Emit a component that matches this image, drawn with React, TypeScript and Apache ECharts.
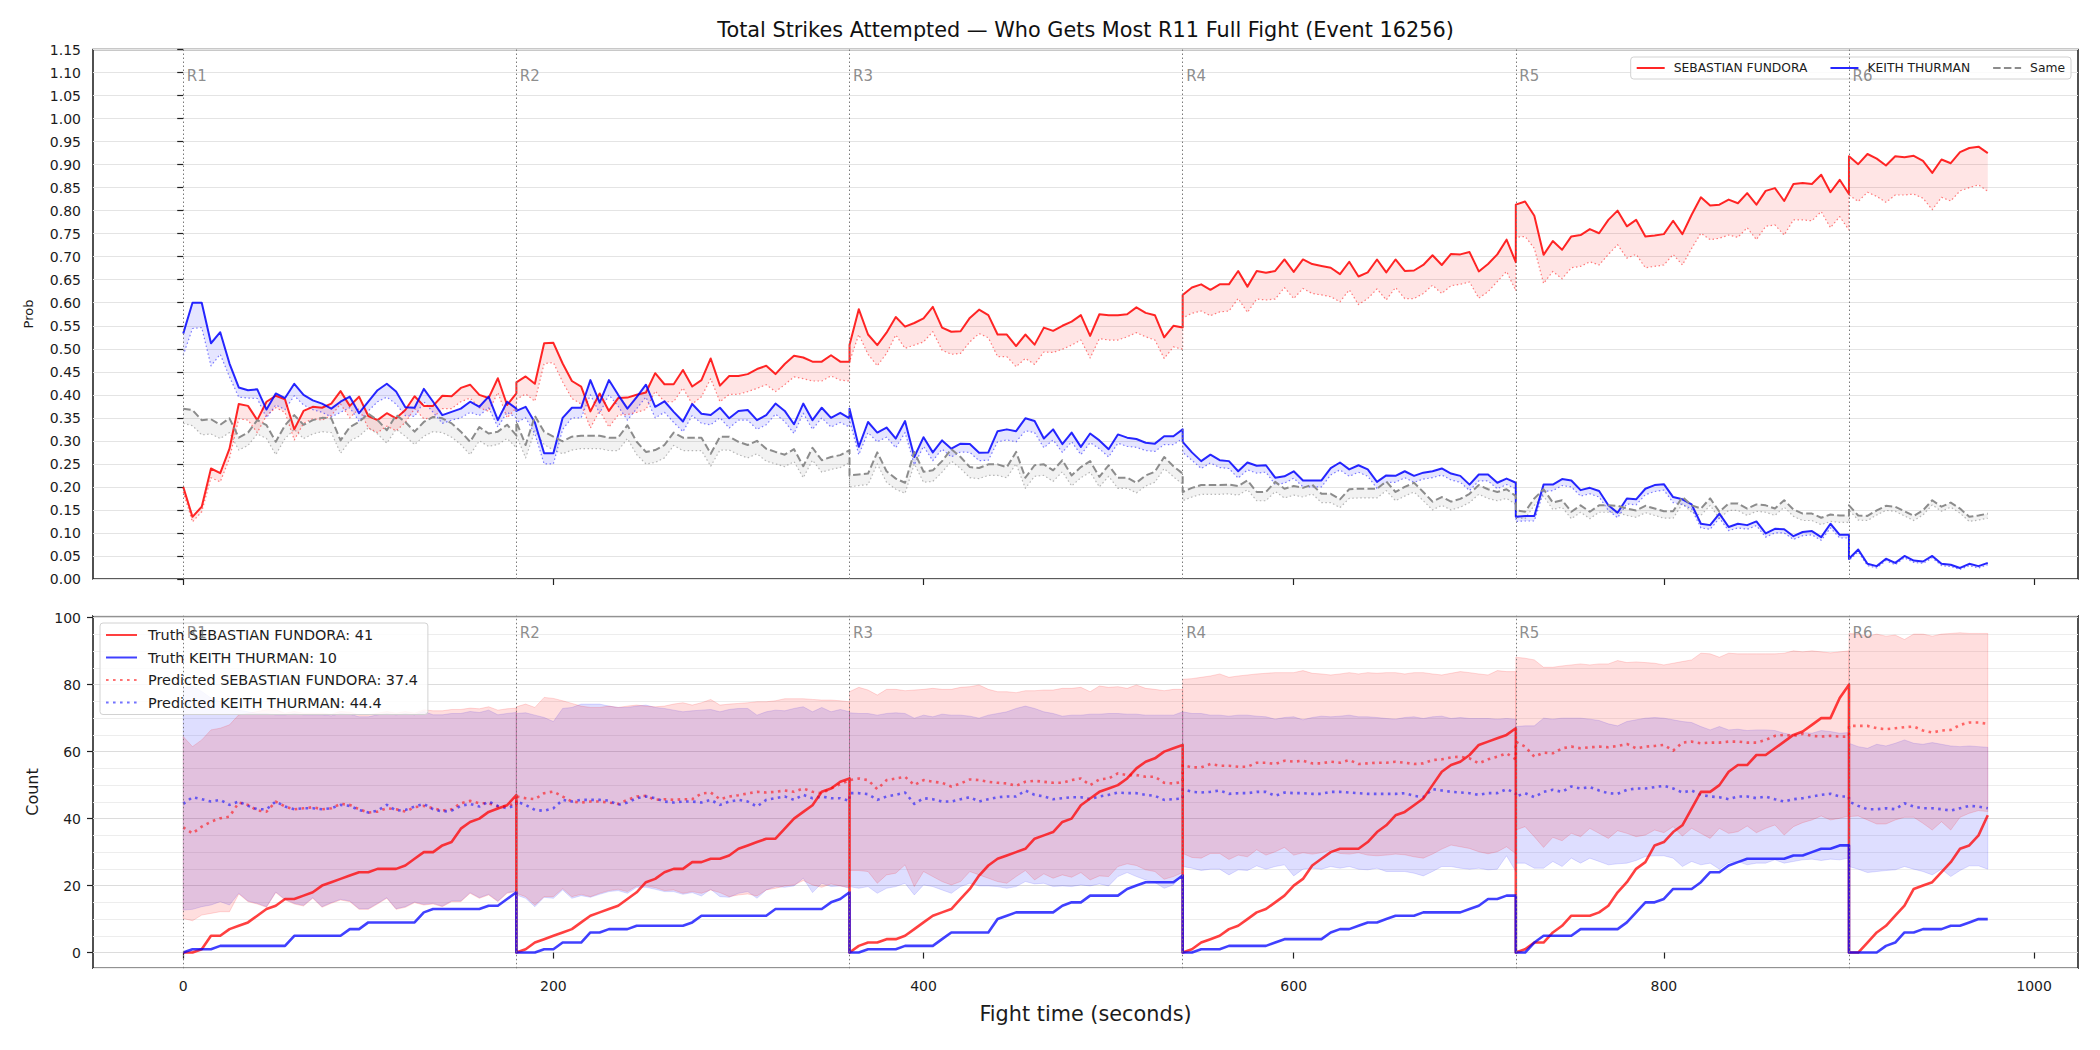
import React, { useEffect, useRef } from 'react';
import * as echarts from 'echarts';

// ---- Time layout: six rounds, one sample every 5 s inside each round ----
const ROUND_STARTS = [0, 180, 360, 540, 720, 900];
const ROUND_NAMES = ['R1', 'R2', 'R3', 'R4', 'R5', 'R6'];
const STEP_S = 5;

const FIGHTER_RED = 'SEBASTIAN FUNDORA';
const FIGHTER_BLUE = 'KEITH THURMAN';
const SAME_LABEL = 'Same';

const TIME_TICKS = [0, 200, 400, 600, 800, 1000];
const PROB_TICKS = [0, 0.05, 0.1, 0.15, 0.2, 0.25, 0.3, 0.35, 0.4, 0.45, 0.5, 0.55, 0.6, 0.65, 0.7, 0.75, 0.8, 0.85, 0.9, 0.95, 1.0, 1.05, 1.1, 1.15];
const COUNT_TICKS = [0, 20, 40, 60, 80, 100];

// ---- Top panel: probability of out-striking (solid) and lower edge of its band (dotted) ----
const probFundora = [
  [0.20, 0.135, 0.157, 0.24, 0.23, 0.283, 0.38, 0.376, 0.345, 0.385, 0.398, 0.39, 0.325, 0.365, 0.374, 0.372, 0.381, 0.408, 0.376, 0.396, 0.354, 0.345, 0.36, 0.349, 0.367, 0.397, 0.376, 0.376, 0.398, 0.397, 0.415, 0.422, 0.40, 0.393, 0.436, 0.378, 0.403],
  [0.427, 0.44, 0.424, 0.512, 0.513, 0.468, 0.43, 0.418, 0.364, 0.403, 0.365, 0.393, 0.394, 0.40, 0.405, 0.447, 0.423, 0.423, 0.454, 0.418, 0.432, 0.479, 0.42, 0.441, 0.441, 0.445, 0.456, 0.463, 0.445, 0.467, 0.485, 0.481, 0.472, 0.472, 0.486, 0.472, 0.472],
  [0.508, 0.586, 0.531, 0.508, 0.535, 0.569, 0.548, 0.556, 0.566, 0.591, 0.546, 0.537, 0.538, 0.567, 0.585, 0.573, 0.531, 0.531, 0.506, 0.531, 0.509, 0.546, 0.539, 0.55, 0.559, 0.573, 0.528, 0.575, 0.573, 0.573, 0.575, 0.59, 0.578, 0.573, 0.525, 0.55, 0.546],
  [0.617, 0.633, 0.64, 0.628, 0.64, 0.64, 0.669, 0.635, 0.669, 0.665, 0.669, 0.694, 0.667, 0.694, 0.684, 0.68, 0.676, 0.662, 0.689, 0.657, 0.666, 0.694, 0.666, 0.694, 0.669, 0.67, 0.682, 0.703, 0.682, 0.706, 0.705, 0.71, 0.668, 0.684, 0.705, 0.737, 0.688],
  [0.813, 0.82, 0.789, 0.704, 0.734, 0.715, 0.744, 0.747, 0.76, 0.751, 0.78, 0.80, 0.766, 0.78, 0.744, 0.746, 0.749, 0.778, 0.749, 0.791, 0.829, 0.811, 0.813, 0.824, 0.816, 0.838, 0.813, 0.843, 0.849, 0.821, 0.858, 0.86, 0.858, 0.878, 0.84, 0.867, 0.836],
  [0.918, 0.901, 0.923, 0.913, 0.898, 0.918, 0.916, 0.919, 0.908, 0.882, 0.911, 0.903, 0.927, 0.936, 0.939, 0.925],
];
const probFundoraLow = [
  [0.189, 0.124, 0.146, 0.22, 0.211, 0.262, 0.348, 0.345, 0.318, 0.355, 0.372, 0.362, 0.302, 0.338, 0.348, 0.345, 0.355, 0.38, 0.35, 0.37, 0.328, 0.318, 0.332, 0.322, 0.34, 0.37, 0.348, 0.35, 0.37, 0.37, 0.385, 0.393, 0.372, 0.364, 0.405, 0.35, 0.372],
  [0.39, 0.402, 0.386, 0.468, 0.47, 0.428, 0.392, 0.38, 0.328, 0.366, 0.33, 0.356, 0.357, 0.362, 0.368, 0.408, 0.385, 0.385, 0.415, 0.38, 0.396, 0.435, 0.385, 0.401, 0.401, 0.407, 0.414, 0.422, 0.407, 0.422, 0.439, 0.435, 0.43, 0.43, 0.441, 0.432, 0.43],
  [0.472, 0.531, 0.488, 0.463, 0.49, 0.53, 0.501, 0.508, 0.515, 0.537, 0.497, 0.488, 0.49, 0.515, 0.533, 0.524, 0.483, 0.483, 0.461, 0.479, 0.466, 0.493, 0.492, 0.499, 0.508, 0.519, 0.48, 0.522, 0.519, 0.519, 0.526, 0.535, 0.526, 0.519, 0.479, 0.504, 0.499],
  [0.567, 0.577, 0.582, 0.572, 0.58, 0.582, 0.609, 0.579, 0.608, 0.606, 0.608, 0.633, 0.609, 0.631, 0.62, 0.617, 0.613, 0.602, 0.628, 0.596, 0.609, 0.63, 0.606, 0.633, 0.609, 0.609, 0.62, 0.638, 0.62, 0.637, 0.64, 0.645, 0.61, 0.624, 0.646, 0.668, 0.626],
  [0.742, 0.744, 0.718, 0.642, 0.668, 0.652, 0.676, 0.679, 0.689, 0.682, 0.705, 0.726, 0.697, 0.705, 0.676, 0.679, 0.682, 0.705, 0.682, 0.718, 0.751, 0.737, 0.74, 0.747, 0.742, 0.763, 0.737, 0.766, 0.769, 0.747, 0.78, 0.78, 0.778, 0.798, 0.763, 0.787, 0.758],
  [0.834, 0.82, 0.84, 0.831, 0.818, 0.834, 0.834, 0.836, 0.827, 0.802, 0.829, 0.821, 0.843, 0.85, 0.856, 0.842],
];
const probThurman = [
  [0.533, 0.60, 0.60, 0.512, 0.536, 0.468, 0.416, 0.41, 0.412, 0.368, 0.403, 0.393, 0.424, 0.40, 0.388, 0.381, 0.37, 0.385, 0.396, 0.36, 0.385, 0.41, 0.424, 0.407, 0.373, 0.372, 0.413, 0.385, 0.356, 0.363, 0.37, 0.385, 0.374, 0.396, 0.345, 0.385, 0.37],
  [0.365, 0.374, 0.34, 0.273, 0.273, 0.35, 0.372, 0.372, 0.432, 0.383, 0.432, 0.40, 0.37, 0.395, 0.422, 0.374, 0.386, 0.363, 0.342, 0.38, 0.359, 0.356, 0.372, 0.349, 0.365, 0.367, 0.345, 0.356, 0.381, 0.365, 0.336, 0.381, 0.345, 0.372, 0.35, 0.361, 0.349],
  [0.37, 0.287, 0.341, 0.318, 0.329, 0.305, 0.343, 0.265, 0.308, 0.275, 0.301, 0.283, 0.294, 0.293, 0.274, 0.275, 0.321, 0.325, 0.321, 0.349, 0.343, 0.305, 0.325, 0.293, 0.318, 0.287, 0.316, 0.301, 0.282, 0.314, 0.307, 0.304, 0.296, 0.294, 0.31, 0.31, 0.325],
  [0.298, 0.275, 0.256, 0.27, 0.258, 0.256, 0.234, 0.253, 0.246, 0.247, 0.22, 0.223, 0.234, 0.214, 0.214, 0.214, 0.241, 0.253, 0.238, 0.247, 0.238, 0.211, 0.225, 0.224, 0.234, 0.224, 0.231, 0.234, 0.24, 0.229, 0.224, 0.205, 0.227, 0.227, 0.209, 0.218, 0.209],
  [0.135, 0.137, 0.137, 0.205, 0.205, 0.217, 0.214, 0.193, 0.198, 0.191, 0.16, 0.144, 0.175, 0.173, 0.196, 0.204, 0.206, 0.178, 0.173, 0.162, 0.12, 0.117, 0.142, 0.113, 0.12, 0.117, 0.125, 0.099, 0.109, 0.108, 0.093, 0.102, 0.104, 0.091, 0.12, 0.096, 0.096],
  [0.044, 0.064, 0.033, 0.028, 0.044, 0.035, 0.05, 0.04, 0.038, 0.05, 0.033, 0.031, 0.024, 0.033, 0.028, 0.035],
];
const probThurmanLow = [
  [0.486, 0.544, 0.546, 0.463, 0.488, 0.439, 0.395, 0.393, 0.392, 0.35, 0.378, 0.368, 0.398, 0.378, 0.368, 0.362, 0.352, 0.362, 0.372, 0.343, 0.365, 0.385, 0.395, 0.38, 0.355, 0.353, 0.385, 0.362, 0.338, 0.345, 0.35, 0.362, 0.355, 0.372, 0.33, 0.362, 0.35],
  [0.34, 0.35, 0.315, 0.25, 0.25, 0.325, 0.35, 0.35, 0.4, 0.36, 0.4, 0.375, 0.345, 0.37, 0.395, 0.35, 0.362, 0.34, 0.32, 0.355, 0.338, 0.335, 0.35, 0.328, 0.345, 0.345, 0.325, 0.335, 0.358, 0.342, 0.316, 0.36, 0.325, 0.35, 0.33, 0.34, 0.33],
  [0.345, 0.27, 0.318, 0.298, 0.308, 0.285, 0.318, 0.248, 0.288, 0.257, 0.282, 0.265, 0.276, 0.275, 0.257, 0.258, 0.298, 0.302, 0.298, 0.322, 0.318, 0.285, 0.302, 0.275, 0.298, 0.27, 0.296, 0.283, 0.265, 0.295, 0.288, 0.286, 0.279, 0.277, 0.292, 0.292, 0.305],
  [0.275, 0.258, 0.24, 0.252, 0.242, 0.24, 0.219, 0.237, 0.23, 0.232, 0.205, 0.208, 0.219, 0.2, 0.2, 0.2, 0.226, 0.237, 0.223, 0.232, 0.223, 0.197, 0.21, 0.21, 0.22, 0.21, 0.217, 0.22, 0.226, 0.215, 0.21, 0.192, 0.213, 0.213, 0.196, 0.205, 0.196],
  [0.125, 0.126, 0.126, 0.19, 0.192, 0.203, 0.2, 0.18, 0.185, 0.178, 0.149, 0.133, 0.163, 0.161, 0.183, 0.19, 0.193, 0.166, 0.162, 0.152, 0.111, 0.108, 0.132, 0.105, 0.111, 0.108, 0.116, 0.091, 0.1, 0.1, 0.086, 0.094, 0.096, 0.084, 0.111, 0.089, 0.089],
  [0.04, 0.059, 0.029, 0.024, 0.04, 0.031, 0.046, 0.036, 0.034, 0.046, 0.029, 0.027, 0.021, 0.029, 0.024, 0.031],
];
const probSame = [
  [0.370, 0.367, 0.345, 0.347, 0.335, 0.349, 0.307, 0.318, 0.345, 0.334, 0.298, 0.334, 0.356, 0.335, 0.345, 0.350, 0.349, 0.301, 0.330, 0.341, 0.359, 0.345, 0.323, 0.356, 0.341, 0.320, 0.341, 0.352, 0.349, 0.338, 0.320, 0.298, 0.330, 0.316, 0.320, 0.335, 0.312],
  [0.341, 0.291, 0.354, 0.320, 0.309, 0.299, 0.309, 0.311, 0.311, 0.311, 0.307, 0.307, 0.334, 0.298, 0.276, 0.280, 0.291, 0.318, 0.307, 0.307, 0.307, 0.272, 0.309, 0.309, 0.298, 0.291, 0.300, 0.283, 0.276, 0.270, 0.282, 0.245, 0.285, 0.258, 0.265, 0.269, 0.280],
  [0.225, 0.227, 0.229, 0.275, 0.234, 0.218, 0.209, 0.276, 0.233, 0.236, 0.256, 0.282, 0.265, 0.243, 0.241, 0.249, 0.249, 0.243, 0.276, 0.22, 0.247, 0.249, 0.236, 0.258, 0.225, 0.243, 0.256, 0.222, 0.247, 0.22, 0.22, 0.209, 0.225, 0.233, 0.265, 0.245, 0.229],
  [0.189, 0.198, 0.204, 0.204, 0.204, 0.205, 0.202, 0.214, 0.189, 0.189, 0.211, 0.196, 0.202, 0.198, 0.205, 0.185, 0.185, 0.173, 0.195, 0.196, 0.196, 0.196, 0.212, 0.189, 0.2, 0.209, 0.189, 0.168, 0.178, 0.168, 0.174, 0.185, 0.204, 0.195, 0.189, 0.195, 0.18],
  [0.149, 0.146, 0.175, 0.195, 0.166, 0.171, 0.146, 0.16, 0.146, 0.16, 0.16, 0.159, 0.153, 0.149, 0.159, 0.153, 0.147, 0.147, 0.178, 0.16, 0.153, 0.175, 0.146, 0.164, 0.164, 0.153, 0.162, 0.16, 0.153, 0.171, 0.151, 0.142, 0.142, 0.133, 0.14, 0.138, 0.138],
  [0.16, 0.138, 0.137, 0.149, 0.159, 0.157, 0.147, 0.137, 0.149, 0.171, 0.157, 0.166, 0.153, 0.135, 0.138, 0.142],
];
const probSameLow = [
  [0.338, 0.333, 0.313, 0.315, 0.305, 0.318, 0.28, 0.29, 0.315, 0.305, 0.27, 0.305, 0.325, 0.305, 0.315, 0.32, 0.318, 0.273, 0.3, 0.31, 0.328, 0.315, 0.295, 0.325, 0.31, 0.292, 0.31, 0.32, 0.318, 0.308, 0.292, 0.27, 0.3, 0.288, 0.292, 0.305, 0.285],
  [0.312, 0.263, 0.322, 0.292, 0.28, 0.272, 0.28, 0.283, 0.283, 0.283, 0.279, 0.279, 0.305, 0.27, 0.25, 0.253, 0.263, 0.29, 0.279, 0.279, 0.279, 0.245, 0.28, 0.28, 0.27, 0.263, 0.272, 0.256, 0.25, 0.244, 0.255, 0.22, 0.258, 0.232, 0.238, 0.242, 0.253],
  [0.2, 0.203, 0.205, 0.25, 0.21, 0.195, 0.186, 0.25, 0.21, 0.212, 0.232, 0.256, 0.24, 0.22, 0.218, 0.225, 0.225, 0.22, 0.25, 0.197, 0.223, 0.225, 0.212, 0.233, 0.202, 0.22, 0.232, 0.2, 0.223, 0.197, 0.197, 0.187, 0.202, 0.21, 0.24, 0.222, 0.206],
  [0.17, 0.178, 0.184, 0.184, 0.184, 0.185, 0.182, 0.194, 0.17, 0.17, 0.19, 0.176, 0.182, 0.178, 0.185, 0.166, 0.166, 0.155, 0.175, 0.176, 0.176, 0.176, 0.192, 0.17, 0.18, 0.189, 0.17, 0.15, 0.16, 0.15, 0.156, 0.166, 0.184, 0.175, 0.17, 0.175, 0.162],
  [0.134, 0.131, 0.16, 0.18, 0.151, 0.156, 0.131, 0.145, 0.131, 0.145, 0.145, 0.144, 0.138, 0.134, 0.144, 0.138, 0.132, 0.132, 0.163, 0.145, 0.138, 0.16, 0.131, 0.149, 0.149, 0.138, 0.147, 0.145, 0.138, 0.156, 0.136, 0.127, 0.127, 0.118, 0.125, 0.123, 0.123],
  [0.15, 0.128, 0.127, 0.139, 0.149, 0.147, 0.137, 0.127, 0.139, 0.161, 0.147, 0.156, 0.143, 0.125, 0.128, 0.132],
];

// ---- Bottom panel: cumulative strikes per round, truth vs. predicted ----
const truthFundora = [
  [0, 0, 1, 5, 5, 7, 8, 9, 11, 13, 14, 16, 16, 17, 18, 20, 21, 22, 23, 24, 24, 25, 25, 25, 26, 28, 30, 30, 32, 33, 37, 39, 40, 42, 43, 44, 47],
  [0, 1, 3, 4, 5, 6, 7, 9, 11, 12, 13, 14, 16, 18, 21, 22, 24, 25, 25, 27, 27, 28, 28, 29, 31, 32, 33, 34, 34, 37, 40, 42, 44, 48, 49, 51, 52],
  [0, 2, 3, 3, 4, 4, 5, 7, 9, 11, 12, 13, 16, 19, 23, 26, 28, 29, 30, 31, 34, 35, 36, 39, 40, 44, 46, 48, 49, 50, 52, 55, 57, 58, 60, 61, 62],
  [0, 1, 3, 4, 5, 7, 8, 10, 12, 13, 15, 17, 20, 22, 26, 28, 30, 31, 31, 31, 33, 36, 38, 41, 42, 44, 46, 50, 54, 56, 57, 59, 62, 63, 64, 65, 67],
  [0, 1, 3, 3, 6, 8, 11, 11, 11, 12, 14, 18, 21, 25, 27, 32, 33, 36, 38, 43, 48, 48, 50, 54, 56, 56, 59, 59, 61, 63, 65, 66, 68, 70, 70, 76, 80],
  [0, 0, 3, 6, 8, 11, 14, 19, 20, 21, 24, 27, 31, 32, 35, 41],
];
const truthThurman = [
  [0, 1, 1, 1, 2, 2, 2, 2, 2, 2, 2, 2, 5, 5, 5, 5, 5, 5, 7, 7, 9, 9, 9, 9, 9, 9, 12, 13, 13, 13, 13, 13, 13, 14, 14, 16, 18],
  [0, 0, 0, 1, 1, 3, 3, 3, 6, 6, 7, 7, 7, 8, 8, 8, 8, 8, 8, 9, 11, 11, 11, 11, 11, 11, 11, 11, 13, 13, 13, 13, 13, 13, 15, 16, 18],
  [0, 0, 1, 1, 1, 1, 2, 2, 2, 2, 4, 6, 6, 6, 6, 6, 10, 11, 12, 12, 12, 12, 12, 14, 15, 15, 17, 17, 17, 17, 19, 20, 21, 21, 21, 21, 23],
  [0, 0, 1, 1, 1, 2, 2, 2, 2, 2, 3, 4, 4, 4, 4, 4, 6, 7, 7, 8, 9, 9, 10, 11, 11, 11, 12, 12, 12, 12, 12, 13, 14, 16, 16, 17, 17],
  [0, 0, 3, 5, 5, 5, 5, 7, 7, 7, 7, 7, 9, 12, 15, 15, 16, 19, 19, 19, 21, 24, 24, 26, 27, 28, 28, 28, 28, 28, 29, 29, 30, 31, 31, 32, 32],
  [0, 0, 0, 0, 2, 3, 6, 6, 7, 7, 7, 8, 8, 9, 10, 10],
];
const predFundora = [
  [37.4, 35.6, 37.6, 39.1, 40.1, 40.6, 44.8, 44.1, 42.4, 42.1, 45.1, 43.6, 42.8, 43.1, 43.4, 42.8, 43.1, 44.4, 44.1, 42.8, 41.8, 42.1, 43.1, 42.8, 42.1, 43.4, 43.8, 43.1, 42.4, 42.8, 44.6, 45.3, 44.6, 44.6, 43.6, 43.8, 44.6],
  [46.6, 46.1, 45.8, 47.6, 48.1, 46.6, 45.1, 44.8, 45.1, 45.1, 44.8, 44.4, 45.6, 46.6, 46.8, 45.6, 45.8, 45.6, 45.8, 45.8, 47.5, 47.8, 45.8, 46.6, 47.0, 47.5, 48.0, 47.8, 48.0, 48.4, 48.0, 49.0, 48.0, 47.6, 49.0, 50.3, 51.5],
  [51.5, 52, 51.5, 48.8, 51.5, 52, 52.5, 50, 51.5, 51, 50.7, 49.6, 50.5, 51.7, 51.5, 51, 50.7, 50.5, 49.8, 51, 51.3, 51, 50.7, 50.7, 51.5, 52, 50, 51.7, 52, 53.5, 53, 53, 52.5, 52.5, 50.7, 50.5, 51],
  [56, 55.3, 55.3, 56.3, 55.8, 55.8, 55.5, 55.5, 56.7, 56.7, 56.3, 57.3, 57, 57.3, 56.5, 56.5, 57, 56.7, 57.5, 56.3, 56.5, 56.7, 56.7, 57, 56.7, 56.3, 56.5, 57.5, 57.7, 58.3, 58.5, 58, 56.5, 57.7, 58.5, 59.5, 57.7],
  [63, 61.5, 58.5, 59.7, 59.5, 61, 61.5, 61, 61.3, 61.5, 61.3, 61.7, 62.3, 61, 61.5, 61.7, 62, 60.3, 62.7, 63, 62.5, 62.7, 62.7, 63, 63, 62.7, 62.7, 63.5, 64.7, 65, 64.7, 65.3, 64.7, 64.5, 64.7, 64.5, 64.5],
  [67.7, 67.7, 67.7, 67, 66.7, 67, 67.3, 67.5, 66.3, 65.7, 66.3, 66.5, 68, 68.7, 68.7, 68.3],
];
const predThurman = [
  [44.4, 46.4, 45.8, 45.1, 45.6, 44.1, 45.1, 43.8, 42.8, 42.8, 45.1, 43.6, 42.8, 43.1, 43.1, 42.8, 43.1, 44.1, 43.8, 42.6, 41.8, 42.4, 44.1, 42.4, 42.6, 43.6, 44.4, 42.8, 42.1, 42.4, 43.8, 44.4, 43.6, 45.1, 43.8, 43.1, 44.1],
  [45.1, 44.1, 42.6, 42.3, 43.1, 45.6, 45.1, 45.6, 45.6, 45.6, 45.4, 44.1, 44.8, 46.1, 46.6, 46.1, 45.1, 44.8, 45.1, 45.1, 44.8, 45.6, 44.1, 45.1, 45.6, 45.1, 43.6, 45.6, 46.1, 46.6, 45.6, 47.1, 46.1, 46.6, 46.1, 46.1, 45.3],
  [47.6, 47.6, 47.3, 45.6, 46.6, 47.1, 47.8, 44.4, 46.1, 45.8, 45.1, 45.1, 45.8, 46.4, 45.1, 45.8, 46.4, 46.6, 46.6, 48.4, 47.1, 46.6, 45.8, 46.1, 46.4, 46.4, 45.8, 46.6, 47.1, 47.8, 47.6, 47.6, 47.1, 46.8, 45.6, 45.8, 46],
  [48.8, 48, 47.8, 48, 48.4, 47.4, 47.6, 47.6, 48, 48, 46.8, 47.8, 47.6, 47.6, 47.4, 47.4, 48, 48, 47.8, 47.6, 47.4, 47.4, 47.4, 47.4, 47.6, 46.8, 46.4, 48.8, 48.4, 48, 47.8, 47.6, 47.1, 47.6, 47.6, 48.8, 47.6],
  [46.6, 47.6, 46.4, 48, 48.6, 48, 49.6, 49, 49.4, 48.4, 47.6, 47.4, 48.6, 49, 49, 49.4, 49.8, 49, 47.8, 48.4, 47.1, 46.6, 46.4, 45.8, 46.6, 46.6, 46.1, 46.6, 45.8, 45.1, 45.8, 46.1, 46.6, 47.1, 47.4, 46.6, 46.6],
  [45.1, 43.8, 42.8, 42.8, 43.1, 42.8, 44.6, 43.6, 43.1, 43.1, 42.8, 42.4, 43.1, 43.8, 43.6, 43.1],
];
const predFundoraHigh = [
  [64.5, 61.5, 63.5, 66.5, 67, 68, 71, 71.4, 72, 72.5, 72.5, 71.5, 72, 71.5, 71.5, 71.5, 71.2, 72, 71.8, 71, 71, 71.5, 72, 71.5, 72, 71.5, 72.5, 72.2, 72.2, 72.6, 72.6, 73, 72.8, 73.4, 72.4, 72.8, 73],
  [73.4, 74.2, 73.2, 76.2, 75.9, 75.2, 74.4, 73.6, 73.2, 73.2, 73.6, 73.2, 73.6, 73.9, 73.6, 73.4, 73.6, 74.2, 74.6, 73.9, 74.6, 75.6, 73.9, 74.2, 74.4, 74.6, 74.9, 74.9, 75.2, 75.8, 75.8, 75.8, 75.6, 75.4, 75.4, 75.2, 74.9],
  [77.9, 79.2, 78.4, 76.9, 78.6, 78.6, 78.2, 78.4, 78.6, 78.9, 78.6, 78.6, 79.2, 79.4, 79.9, 78.6, 77.9, 77.9, 77.6, 78.2, 78.2, 78.4, 78.4, 78.9, 78.9, 79.2, 77.9, 79.6, 79.2, 79.4, 78.9, 79.9, 78.9, 78.6, 78.2, 78.6, 78.6],
  [81.6, 81.8, 82.2, 82.6, 83.2, 82.2, 82.6, 82.9, 83.2, 83.4, 83.6, 83.6, 83.6, 84.2, 83.4, 83.2, 82.9, 83.2, 83.6, 83.2, 83.6, 83.4, 83.6, 83.6, 83.2, 83.6, 83.6, 83.2, 82.9, 83.4, 83.9, 83.6, 83.2, 82.9, 84.2, 83.9, 83.9],
  [88.2, 87.9, 87.4, 85.2, 85.2, 85.6, 85.9, 86.2, 85.9, 86.2, 86.2, 87.2, 86.6, 86.8, 86.6, 86.4, 85.9, 86.4, 86.9, 87.4, 89.4, 89.2, 88.2, 89.4, 89.2, 89.2, 89.2, 89.2, 89.2, 89.4, 90.1, 89.8, 90.1, 89.8, 89.5, 89.8, 90.1],
  [95.3, 95.1, 94.5, 95.1, 94.5, 94.8, 93.5, 95.1, 95.1, 94.5, 95.1, 95.3, 95.5, 95.3, 95.3, 95.3],
];
const predFundoraLow = [
  [10.2, 9.5, 11.2, 11.7, 12.2, 12.2, 17.5, 15.2, 14.5, 13.5, 17.9, 15.7, 14.5, 13.9, 16.2, 13.5, 14.7, 15.7, 15.2, 12.9, 12.9, 14.5, 16.2, 12.9, 13.5, 14.9, 14.2, 14.5, 13.7, 15.2, 15.2, 17.7, 16.2, 17.2, 15.2, 17.7, 18.2],
  [17.7, 16.7, 14.2, 16.7, 16.7, 19.1, 16.7, 17.4, 16.7, 17.7, 18.5, 18.9, 18.2, 19.9, 19.9, 19.4, 18.5, 18.7, 17.7, 18.2, 17.7, 18.7, 17.9, 16.7, 17.2, 17.5, 16.9, 18.7, 19.2, 19.9, 20.2, 21.5, 20.2, 19.5, 20.5, 19.9, 19.5],
  [24.5, 24.5, 24.2, 20.7, 23.2, 23.7, 26.2, 19.7, 24.2, 22.7, 21.2, 20.2, 21.2, 24.2, 23.2, 22.2, 21.2, 20.7, 22.7, 24.5, 21.7, 23.5, 22.2, 23.2, 22.5, 23.9, 21.7, 22.9, 22.7, 25.7, 26.5, 26, 24.7, 24.2, 21.9, 22.7, 23.9],
  [29.6, 28.4, 28.2, 29.6, 29.6, 27.8, 29.1, 28.6, 30.7, 29.1, 30.1, 31.4, 29.1, 29.8, 29.4, 29.8, 30.6, 29.6, 29.4, 29.8, 29.1, 28.9, 29.1, 29.4, 29.2, 28.6, 28.2, 29.4, 30.9, 32.1, 31.6, 31.1, 30.1, 29.5, 30.1, 31.6, 29.5],
  [36.6, 37.6, 34.6, 31.4, 34.4, 33.4, 35.6, 34.6, 37.1, 35.6, 34.1, 36.4, 35.6, 34.6, 35.1, 36.6, 35.8, 37.6, 34.8, 37.1, 35.6, 34.1, 37.1, 35.6, 36.1, 37.8, 35.8, 37.1, 38.1, 35.1, 37.6, 38.8, 39.6, 40.8, 39.6, 40.1, 40.8],
  [40.6, 40.8, 39.6, 38.4, 38.4, 39.6, 40.4, 40.4, 38.6, 36.6, 39.1, 36.6, 40.4, 41.6, 42.4, 42.1],
];
const predThurmanHigh = [
  [79, 79.5, 78, 76, 75, 73.4, 72.4, 71.9, 71.4, 71.4, 71, 71, 71.4, 71, 71, 71, 70.7, 71.4, 71.2, 70.4, 70.4, 71, 71.4, 71, 71.4, 71, 72, 71, 71, 71.4, 71.4, 72, 71.7, 72.4, 71, 71.4, 71.7],
  [71.4, 71.6, 70.9, 70.2, 69, 72.9, 73.2, 74.2, 74.2, 74.2, 73.6, 73.2, 73.2, 73.6, 73.9, 73.2, 72.9, 72.4, 71.9, 72.2, 72.4, 72.6, 71.9, 72.6, 72.9, 72.9, 70.9, 71.9, 72.4, 72.2, 72.9, 73.4, 71.9, 73.2, 71.9, 72.6, 71.9],
  [71.6, 71.4, 71.4, 70.9, 71.4, 71.6, 71.4, 70, 70.9, 70.4, 71.2, 70.9, 70.9, 70.6, 70, 70.9, 71.4, 71.9, 72.9, 73.6, 72.9, 71.9, 71.4, 70.6, 70.9, 70.9, 71.2, 71.2, 71.4, 71.4, 71.2, 71.2, 70.9, 70.9, 70.9, 70.9, 71.9],
  [71.9, 71.4, 71.4, 70.9, 70.9, 70.6, 70.9, 70.9, 70.6, 70.4, 69.7, 70.2, 70.4, 69.5, 70.2, 70.6, 70.4, 70.6, 70.9, 70.4, 70.4, 70.2, 69.9, 69.7, 70.2, 70.4, 69.9, 70.4, 70.6, 69.9, 70.2, 69.9, 69.9, 69.9, 69.7, 69.9, 69.7],
  [67.5, 67.7, 67.7, 70, 69.7, 70, 70, 70, 69.7, 69.3, 68.3, 67.7, 69, 69.5, 70, 70.2, 70, 69.5, 69, 68.7, 67.5, 66.5, 67.5, 66.5, 66.7, 66.3, 66.5, 66.5, 66.3, 65.5, 65, 65.7, 65.5, 66.3, 66, 65.5, 65.7],
  [62.5, 61.5, 61, 62.2, 61.7, 62.5, 63.5, 62.5, 62.2, 62.7, 62.2, 61.7, 61.5, 61.7, 61.5, 61.3],
];
const predThurmanLow = [
  [12.7, 12.9, 13.7, 14.2, 15.2, 14.2, 17.7, 15.4, 14.7, 13.7, 18.1, 15.9, 14.7, 14.1, 16.4, 13.7, 14.9, 15.9, 15.4, 13.1, 13.1, 14.7, 16.4, 13.1, 13.7, 15.1, 14.4, 14.7, 13.9, 15.4, 15.4, 17.9, 16.4, 17.4, 15.4, 17.9, 18.4],
  [17.2, 16.2, 13.7, 16.5, 16.2, 18.7, 16.2, 17, 16.5, 17.4, 18.2, 18.5, 17.7, 19.5, 19.5, 18.9, 18.2, 18.2, 17.4, 17.9, 16.9, 18.9, 16.7, 16.5, 17.7, 18.2, 16.2, 18.7, 19.7, 19.5, 19.9, 22.2, 17.9, 20.7, 19.7, 19.9, 19.2],
  [19.7, 19.2, 19.7, 17.7, 19.2, 19.7, 20.7, 17.2, 20.2, 19.7, 18.7, 17.7, 19.7, 20.7, 19.9, 19.9, 19.7, 19.2, 19.7, 21.2, 20.5, 20.7, 19.7, 19.9, 19.7, 20.2, 19.9, 20.5, 19.9, 22.7, 23.9, 22.7, 21.7, 20.9, 19.2, 20.2, 23.2],
  [25.7, 25.2, 24.5, 24.9, 24.9, 23.2, 24.7, 24.5, 25.9, 24.9, 25.7, 26.2, 22.9, 24.9, 25.2, 24.9, 25.7, 25.2, 25.7, 24.9, 24.7, 25.2, 24.2, 24.2, 24.2, 23.7, 22.9, 24.2, 25.7, 25.7, 25.2, 24.9, 25.2, 24.7, 24.9, 28.9, 24.2],
  [26.7, 26.7, 25.2, 25.2, 27.2, 25.7, 28.2, 26.7, 28.2, 27.2, 26.2, 26.5, 26.7, 27.5, 28.7, 28.9, 28.9, 28.2, 25.7, 27.2, 26.2, 26.7, 24.9, 26.9, 27.2, 26.2, 26.7, 26.7, 27.7, 26.7, 27.2, 27.7, 27.9, 27.5, 27.9, 27.7, 28.2],
  [25.7, 24.9, 23.9, 24.2, 24.5, 24.7, 25.7, 24.9, 24.2, 23.2, 24.9, 22.7, 24.5, 25.9, 25.9, 24.9],
];

// ---- axis extents ----
const X_MIN = -48.75;
const X_MAX = 1023.75;
const PROB_MIN = 0;
const PROB_MAX = 1.15;
const COUNT_MIN = -4.7;
const COUNT_MAX = 100.6;

const FONT = 'DejaVu Sans, Liberation Sans, sans-serif';
const INK = '#1c1c1c';

const timeOf = (round: number, k: number) => ROUND_STARTS[round] + k * STEP_S;
const toPairs = (rounds: number[][]) =>
  rounds.flatMap((vals, r) => vals.map((v, k) => [timeOf(r, k), v]));
const lastOf = (rounds: number[][]) => {
  const r = rounds[rounds.length - 1];
  return r[r.length - 1];
};

function lineSeries(name: string, rounds: number[][], color: string, width: number, type: any, axis: number, z: number) {
  return {
    type: 'line',
    name,
    xAxisIndex: axis,
    yAxisIndex: axis === 0 ? 0 : 1,
    data: toPairs(rounds),
    symbol: 'none',
    showSymbol: false,
    silent: true,
    z,
    lineStyle: { color, width, type, cap: 'butt', join: 'round' },
    itemStyle: { color },
  };
}

// Filled polygon between two per-round curves, one polygon per round.
function bandSeries(upper: number[][], lower: number[][], fill: string, stroke: string | null, axis: number, z: number) {
  return {
    type: 'custom',
    xAxisIndex: axis,
    yAxisIndex: axis === 0 ? 0 : 1,
    silent: true,
    z,
    clip: true,
    data: upper.map((vals, r) => [ROUND_STARTS[r], vals[0]]),
    renderItem: (params: any, api: any) => {
      const r = params.dataIndex;
      const pts: number[][] = [];
      upper[r].forEach((v, k) => pts.push(api.coord([timeOf(r, k), v])));
      for (let k = lower[r].length - 1; k >= 0; k--) pts.push(api.coord([timeOf(r, k), lower[r][k]]));
      return {
        type: 'polygon',
        shape: { points: pts },
        style: { fill, stroke: stroke || 'none', lineWidth: stroke ? 1 : 0 },
      };
    },
  };
}

function roundMarkers(axis: number, labelY: number) {
  return {
    type: 'scatter',
    xAxisIndex: axis,
    yAxisIndex: axis === 0 ? 0 : 1,
    silent: true,
    z: 6,
    symbolSize: 1,
    itemStyle: { color: 'rgba(0,0,0,0)' },
    data: ROUND_STARTS.map((t) => [t, labelY]),
    label: {
      show: true,
      position: 'right',
      distance: 3,
      formatter: (p: any) => ROUND_NAMES[p.dataIndex],
      color: '#6f6f6f',
      fontSize: 15,
      fontFamily: FONT,
    },
    markLine: {
      silent: true,
      symbol: 'none',
      animation: false,
      label: { show: false },
      lineStyle: { color: '#7a7a7a', width: 1, type: [1.5, 2.5] },
      data: ROUND_STARTS.map((t) => ({ xAxis: t })),
    },
  };
}

function buildOption() {
  const RED = 'rgba(255,0,0,0.85)';
  const BLUE = 'rgba(0,0,255,0.85)';
  const GRAY = 'rgb(140,140,140)';

  const truthRedName = `Truth ${FIGHTER_RED}: ${lastOf(truthFundora)}`;
  const truthBlueName = `Truth ${FIGHTER_BLUE}: ${lastOf(truthThurman)}`;
  const predRedName = `Predicted ${FIGHTER_RED}: ${predFundora[0][0]}`;
  const predBlueName = `Predicted ${FIGHTER_BLUE}: ${predThurman[0][0]}`;

  const tickLine = { show: true, length: 6, lineStyle: { color: '#222', width: 1.2 } };
  const labelStyle = { color: INK, fontSize: 14, fontFamily: FONT };
  // legend markers: line only, no point symbol
  const hiddenSymbol = { color: 'rgba(0,0,0,0)', borderColor: 'rgba(0,0,0,0)', borderWidth: 0, opacity: 0 };

  return {
    animation: false,
    backgroundColor: '#ffffff',
    textStyle: { fontFamily: FONT },
    grid: [
      { left: 93, top: 49.5, width: 1985, height: 529.5, show: true, borderColor: '#262626', borderWidth: 1.6, backgroundColor: 'transparent' },
      { left: 93, top: 615.7, width: 1985, height: 352.6, show: true, borderColor: '#262626', borderWidth: 1.6, backgroundColor: 'transparent' },
    ],
    xAxis: [
      {
        type: 'value', gridIndex: 0, min: X_MIN, max: X_MAX, minInterval: 200, maxInterval: 200,
        axisLine: { show: false },
        axisTick: { ...tickLine, customValues: TIME_TICKS },
        axisLabel: { show: false, customValues: TIME_TICKS },
        splitLine: { show: false },
      },
      {
        type: 'value', gridIndex: 1, min: X_MIN, max: X_MAX, minInterval: 200, maxInterval: 200,
        axisLine: { show: false },
        axisTick: { ...tickLine, customValues: TIME_TICKS },
        axisLabel: { ...labelStyle, margin: 11, customValues: TIME_TICKS, formatter: (v: number) => String(v) },
        splitLine: { show: false },
      },
    ],
    yAxis: [
      {
        type: 'value', gridIndex: 0, position: 'left', min: PROB_MIN, max: PROB_MAX, interval: 0.05,
        axisLine: { show: false },
        axisTick: { ...tickLine, customValues: PROB_TICKS },
        axisLabel: { ...labelStyle, margin: 12, customValues: PROB_TICKS, formatter: (v: number) => v.toFixed(2) },
        splitLine: { show: true, lineStyle: { color: '#e4e4e4', width: 1 } },
      },
      {
        type: 'value', gridIndex: 1, position: 'left', min: COUNT_MIN, max: COUNT_MAX, minInterval: 5, maxInterval: 5,
        axisLine: { show: false },
        axisTick: { show: false },
        axisLabel: { show: false },
        splitLine: { show: true, lineStyle: { color: '#ededed', width: 1 } },
      },
      {
        type: 'value', gridIndex: 1, position: 'left', offset: 0, min: COUNT_MIN, max: COUNT_MAX, minInterval: 20, maxInterval: 20,
        axisLine: { show: false },
        axisTick: { ...tickLine, customValues: COUNT_TICKS },
        axisLabel: { ...labelStyle, margin: 12, customValues: COUNT_TICKS, formatter: (v: number) => (v < 0 || v > 100 ? '' : String(v)) },
        splitLine: { show: true, lineStyle: { color: '#dcdcdc', width: 1 } },
      },
    ],
    legend: [
      {
        data: [FIGHTER_RED, FIGHTER_BLUE, SAME_LABEL],
        right: 29, top: 57, orient: 'horizontal',
        itemWidth: 28, itemHeight: 12, itemGap: 22,
        padding: [5, 6, 5, 5],
        backgroundColor: 'rgba(255,255,255,0.85)',
        borderColor: '#d2d2d2', borderWidth: 1, borderRadius: 3,
        selectedMode: false,
        itemStyle: hiddenSymbol,
        textStyle: { color: INK, fontSize: 12.3, fontFamily: FONT, padding: [0, 0, 0, 4] },
      },
      {
        data: [truthRedName, truthBlueName, predRedName, predBlueName],
        left: 100, top: 623, orient: 'vertical',
        itemWidth: 31, itemHeight: 14, itemGap: 8.5,
        padding: [5, 10, 5, 5],
        backgroundColor: 'rgba(255,255,255,0.82)',
        borderColor: '#d2d2d2', borderWidth: 1, borderRadius: 3,
        selectedMode: false,
        itemStyle: hiddenSymbol,
        textStyle: { color: INK, fontSize: 14.4, fontFamily: FONT, padding: [0, 0, 0, 6] },
      },
    ],
    graphic: [
      {
        type: 'text', x: 1085.5, y: 30, silent: true,
        style: { text: 'Total Strikes Attempted — Who Gets Most R11 Full Fight (Event 16256)', fill: '#111', font: `20.8px ${FONT}`, textAlign: 'center', textVerticalAlign: 'middle' },
      },
      {
        type: 'text', x: 28, y: 314, rotation: Math.PI / 2, silent: true,
        style: { text: 'Prob', fill: INK, font: `13px ${FONT}`, textAlign: 'center', textVerticalAlign: 'middle' },
      },
      {
        type: 'text', x: 32, y: 792, rotation: Math.PI / 2, silent: true,
        style: { text: 'Count', fill: INK, font: `16px ${FONT}`, textAlign: 'center', textVerticalAlign: 'middle' },
      },
      {
        type: 'text', x: 1085.5, y: 1014, silent: true,
        style: { text: 'Fight time (seconds)', fill: INK, font: `20.8px ${FONT}`, textAlign: 'center', textVerticalAlign: 'middle' },
      },
    ],
    series: [
      // top panel bands
      bandSeries(probSame, probSameLow, 'rgba(128,128,128,0.1)', null, 0, 1),
      bandSeries(probThurman, probThurmanLow, 'rgba(0,0,255,0.1)', null, 0, 1),
      bandSeries(probFundora, probFundoraLow, 'rgba(255,0,0,0.1)', null, 0, 1),
      // top panel lower edges
      lineSeries('lowSame', probSameLow, 'rgba(128,128,128,0.55)', 1.2, [1.5, 2.5], 0, 2),
      lineSeries('lowThurman', probThurmanLow, 'rgba(0,0,255,0.5)', 1.2, [1.5, 2.5], 0, 2),
      lineSeries('lowFundora', probFundoraLow, 'rgba(255,0,0,0.5)', 1.2, [1.5, 2.5], 0, 2),
      // top panel main lines
      lineSeries(FIGHTER_RED, probFundora, RED, 2, 'solid', 0, 4),
      lineSeries(FIGHTER_BLUE, probThurman, BLUE, 2, 'solid', 0, 4),
      lineSeries(SAME_LABEL, probSame, GRAY, 2, [7.5, 3.3], 0, 4),
      roundMarkers(0, PROB_MIN + 0.95 * (PROB_MAX - PROB_MIN)),

      // bottom panel bands
      bandSeries(predThurmanHigh, predThurmanLow, 'rgba(0,0,255,0.13)', 'rgba(0,0,255,0.12)', 1, 1),
      bandSeries(predFundoraHigh, predFundoraLow, 'rgba(255,0,0,0.13)', 'rgba(255,0,0,0.14)', 1, 1),
      // predicted
      lineSeries(predRedName, predFundora, 'rgba(255,0,0,0.55)', 2.6, [2.6, 4.4], 1, 3),
      lineSeries(predBlueName, predThurman, 'rgba(0,0,255,0.55)', 2.6, [2.6, 4.4], 1, 3),
      // truth
      lineSeries(truthRedName, truthFundora, 'rgba(255,0,0,0.75)', 2.6, 'solid', 1, 4),
      lineSeries(truthBlueName, truthThurman, 'rgba(0,0,255,0.75)', 2.6, 'solid', 1, 4),
      roundMarkers(1, COUNT_MIN + 0.95 * (COUNT_MAX - COUNT_MIN)),
    ],
  };
}

export default function App() {
  const ref = useRef<HTMLDivElement>(null);
  useEffect(() => {
    if (!ref.current) return;
    const chart = echarts.init(ref.current, null, { renderer: 'svg' });
    chart.setOption(buildOption() as any);
    return () => chart.dispose();
  }, []);
  return (
    <div
      ref={ref}
      style={{ position: 'fixed', left: 0, top: 0, width: 2100, height: 1050, background: '#fff' }}
    />
  );
}
